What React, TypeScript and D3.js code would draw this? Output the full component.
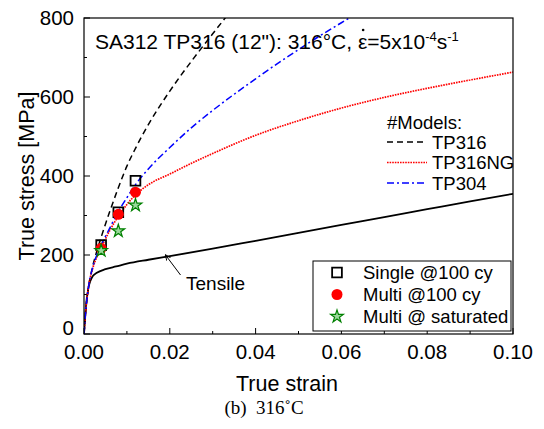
import React, { useRef, useEffect } from "react";
import * as d3 from "d3";

// tick values
const strainTicks = [0, 0.02, 0.04, 0.06, 0.08, 0.1];
const strainMinor = [0.01, 0.03, 0.05, 0.07, 0.09];
const stressTicks = [0, 200, 400, 600, 800];
const stressMinor = [100, 300, 500, 700];

// curves: [strain, stress MPa]
const tensileCurve: [number, number][] = [
  [0, 0], [0.0005, 75], [0.001, 115], [0.0015, 135], [0.002, 146], [0.003, 155],
  [0.005, 164], [0.0075, 171], [0.01, 178], [0.015, 188], [0.02, 197], [0.03, 216],
  [0.04, 236], [0.05, 256], [0.06, 276], [0.07, 296], [0.08, 316], [0.09, 336], [0.1, 355],
];
const tp316Curve: [number, number][] = [
  [0, 0], [0.0005, 70], [0.001, 115], [0.002, 170], [0.003, 210], [0.004, 245],
  [0.006, 310], [0.008, 370], [0.01, 425], [0.012, 470], [0.015, 530], [0.02, 615],
  [0.025, 690], [0.03, 760], [0.034, 815],
];
const tp316ngCurve: [number, number][] = [
  [0, 0], [0.0005, 70], [0.001, 115], [0.002, 165], [0.003, 195], [0.004, 218],
  [0.006, 262], [0.008, 298], [0.01, 328], [0.012, 352], [0.015, 378], [0.02, 405],
  [0.025, 432], [0.03, 457], [0.04, 503], [0.05, 540], [0.06, 572], [0.07, 599],
  [0.08, 622], [0.09, 643], [0.1, 663],
];
const tp304Curve: [number, number][] = [
  [0, 0], [0.0005, 70], [0.001, 115], [0.002, 168], [0.003, 200], [0.004, 225],
  [0.006, 268], [0.008, 310], [0.01, 345], [0.012, 378], [0.015, 418], [0.02, 472],
  [0.025, 522], [0.03, 566], [0.035, 607], [0.04, 646], [0.045, 684], [0.05, 720],
  [0.055, 755], [0.06, 788], [0.065, 820],
];

// test points
const testStrain = [0.004, 0.008, 0.012];
const singleStress = [225, 308, 388];
const multiStress = [217, 303, 359];
const saturatedStress = [211, 261, 326];

const modelNames = ["TP316", "TP316NG", "TP304"];
const pointNames = ["Single @100 cy", "Multi @100 cy", "Multi @ saturated"];

const FONT = "Arial, 'Liberation Sans', sans-serif";
const RED_DASH = "1.6,1";

export default function App() {
  const ref = useRef<SVGSVGElement>(null);

  useEffect(() => {
    const width = 544;
    const height = 429;
    const m = { left: 84, right: 513, top: 18, bottom: 334 };

    const svg = d3.select(ref.current);
    svg.selectAll("*").remove();
    svg.attr("width", width).attr("height", height);

    svg.append("rect").attr("width", width).attr("height", height).attr("fill", "#fff");

    const x = d3.scaleLinear().domain([0, 0.1]).range([m.left, m.right]);
    const y = d3.scaleLinear().domain([0, 800]).range([m.bottom, m.top]);

    const defs = svg.append("defs");
    defs
      .append("clipPath")
      .attr("id", "plotClip")
      .append("rect")
      .attr("x", m.left)
      .attr("y", m.top)
      .attr("width", m.right - m.left)
      .attr("height", m.bottom - m.top);

    // ticks (inside)
    const tk = svg.append("g").attr("stroke", "#000").attr("stroke-width", 1);
    strainTicks.forEach((t) =>
      tk.append("line").attr("x1", x(t)).attr("x2", x(t)).attr("y1", m.bottom).attr("y2", m.bottom - 6)
    );
    strainMinor.forEach((t) =>
      tk.append("line").attr("x1", x(t)).attr("x2", x(t)).attr("y1", m.bottom).attr("y2", m.bottom - 3)
    );
    stressTicks.forEach((t) =>
      tk.append("line").attr("x1", m.left).attr("x2", m.left + 6).attr("y1", y(t)).attr("y2", y(t))
    );
    stressMinor.forEach((t) =>
      tk.append("line").attr("x1", m.left).attr("x2", m.left + 3).attr("y1", y(t)).attr("y2", y(t))
    );

    // tick labels
    svg
      .append("g")
      .selectAll("text")
      .data(strainTicks)
      .join("text")
      .attr("x", (d) => x(d))
      .attr("y", m.bottom + 25)
      .attr("text-anchor", "middle")
      .attr("font-family", FONT)
      .attr("font-size", 20.5)
      .text((d) => d3.format(".2f")(d));

    svg
      .append("g")
      .selectAll("text")
      .data(stressTicks)
      .join("text")
      .attr("x", m.left - 10)
      .attr("y", (d) => y(d) + (d === 0 ? 1 : 7))
      .attr("text-anchor", "end")
      .attr("font-family", FONT)
      .attr("font-size", 20.5)
      .text((d) => d);

    // axis titles
    svg
      .append("text")
      .attr("x", 287)
      .attr("y", 391)
      .attr("text-anchor", "middle")
      .attr("font-family", FONT)
      .attr("font-size", 21.5)
      .text("True strain");

    svg
      .append("text")
      .attr("transform", `translate(34,${(m.top + m.bottom) / 2}) rotate(-90)`)
      .attr("text-anchor", "middle")
      .attr("font-family", FONT)
      .attr("font-size", 21.5)
      .text("True stress [MPa]");

    // caption
    svg
      .append("text")
      .attr("x", 264)
      .attr("y", 414)
      .attr("text-anchor", "middle")
      .attr("font-family", "'Liberation Serif', 'Times New Roman', serif")
      .attr("font-size", 19)
      .attr("xml:space", "preserve")
      .text("(b)  316˚C");

    // curves
    const line = d3
      .line<[number, number]>()
      .x((d) => x(d[0]))
      .y((d) => y(d[1]))
      .curve(d3.curveMonotoneX);

    const plot = svg.append("g").attr("clip-path", "url(#plotClip)");

    plot
      .append("path")
      .attr("d", line(tensileCurve))
      .attr("fill", "none")
      .attr("stroke", "#000")
      .attr("stroke-width", 1.8);
    plot
      .append("path")
      .attr("d", line(tp316Curve))
      .attr("fill", "none")
      .attr("stroke", "#000")
      .attr("stroke-width", 1.5)
      .attr("stroke-dasharray", "6,4");
    plot
      .append("path")
      .attr("d", line(tp316ngCurve))
      .attr("fill", "none")
      .attr("stroke", "#ff0000")
      .attr("stroke-width", 1.7)
      .attr("stroke-dasharray", RED_DASH);
    plot
      .append("path")
      .attr("d", line(tp304Curve))
      .attr("fill", "none")
      .attr("stroke", "#0000ff")
      .attr("stroke-width", 1.5)
      .attr("stroke-dasharray", "7,3,2,3");

    // markers
    const square = d3.symbol().type(d3.symbolSquare).size(95);
    const star = d3.symbol().type(d3.symbolStar).size(50);

    testStrain.forEach((s, i) => {
      svg
        .append("path")
        .attr("d", square())
        .attr("transform", `translate(${x(s)},${y(singleStress[i])})`)
        .attr("fill", "none")
        .attr("stroke", "#000")
        .attr("stroke-width", 1.8);
    });
    testStrain.forEach((s, i) => {
      svg
        .append("circle")
        .attr("cx", x(s))
        .attr("cy", y(multiStress[i]))
        .attr("r", 5.5)
        .attr("fill", "#ff0000");
    });
    testStrain.forEach((s, i) => {
      svg
        .append("path")
        .attr("d", star())
        .attr("transform", `translate(${x(s)},${y(saturatedStress[i])})`)
        .attr("fill", "#9ad89a")
        .attr("stroke", "#008000")
        .attr("stroke-width", 1.2);
    });

    // frame
    svg
      .append("rect")
      .attr("x", m.left)
      .attr("y", m.top)
      .attr("width", m.right - m.left)
      .attr("height", m.bottom - m.top)
      .attr("fill", "none")
      .attr("stroke", "#000")
      .attr("stroke-width", 1.2);

    // title
    const titleStr = 'SA312 TP316 (12"): 316°C, ε=5x10';
    const title = svg
      .append("text")
      .attr("x", 95)
      .attr("y", 49)
      .attr("font-family", FONT)
      .attr("font-size", 21);
    title.append("tspan").text(titleStr);
    title.append("tspan").attr("dy", -8).attr("font-size", 13).text("-4");
    title.append("tspan").attr("dy", 8).text("s");
    title.append("tspan").attr("dy", -8).attr("font-size", 13).text("-1");

    // dot over epsilon (strain rate)
    const tnode = title.node() as SVGTextElement;
    const epsIdx = titleStr.indexOf("ε");
    try {
      const p0 = tnode.getStartPositionOfChar(epsIdx);
      const p1 = tnode.getEndPositionOfChar(epsIdx);
      svg
        .append("circle")
        .attr("cx", (p0.x + p1.x) / 2 + 0.5)
        .attr("cy", 30)
        .attr("r", 1.3)
        .attr("fill", "#000");
    } catch (e) {
      // ignore
    }

    // Tensile annotation
    defs
      .append("marker")
      .attr("id", "arrowHead")
      .attr("viewBox", "0 0 10 10")
      .attr("refX", 9)
      .attr("refY", 5)
      .attr("markerWidth", 6)
      .attr("markerHeight", 6)
      .attr("orient", "auto")
      .append("path")
      .attr("d", "M0,1 L10,5 L0,9")
      .attr("fill", "none")
      .attr("stroke", "#000")
      .attr("stroke-width", 1.5);
    svg
      .append("line")
      .attr("x1", x(0.0225))
      .attr("y1", 275)
      .attr("x2", x(0.019))
      .attr("y2", y(200))
      .attr("stroke", "#000")
      .attr("stroke-width", 1)
      .attr("marker-end", "url(#arrowHead)");
    svg
      .append("text")
      .attr("x", 186)
      .attr("y", 290)
      .attr("font-family", FONT)
      .attr("font-size", 19)
      .text("Tensile");

    // model legend (no box)
    const lg = svg.append("g").attr("font-family", FONT).attr("font-size", 18.5);
    lg.append("text").attr("x", 387).attr("y", 129).text("#Models:");
    const legStyles = [
      { stroke: "#000", dash: "6,4", w: 1.5 },
      { stroke: "#ff0000", dash: RED_DASH, w: 1.7 },
      { stroke: "#0000ff", dash: "7,3,2,3", w: 1.5 },
    ];
    modelNames.forEach((n, i) => {
      const ly = 142 + i * 20.5;
      lg.append("line")
        .attr("x1", 387)
        .attr("x2", 427)
        .attr("y1", ly)
        .attr("y2", ly)
        .attr("stroke", legStyles[i].stroke)
        .attr("stroke-width", legStyles[i].w)
        .attr("stroke-dasharray", legStyles[i].dash);
      lg.append("text").attr("x", 432).attr("y", ly + 6.5).text(n);
    });

    // marker legend (boxed)
    const bx = svg.append("g").attr("font-family", FONT).attr("font-size", 18.5);
    bx.append("rect")
      .attr("x", 313)
      .attr("y", 261)
      .attr("width", 198)
      .attr("height", 70)
      .attr("fill", "#fff")
      .attr("stroke", "#000")
      .attr("stroke-width", 1);
    pointNames.forEach((n, i) => {
      const ly = 272.5 + i * 22;
      if (i === 0) {
        bx.append("path")
          .attr("d", square())
          .attr("transform", `translate(337,${ly})`)
          .attr("fill", "none")
          .attr("stroke", "#000")
          .attr("stroke-width", 1.8);
      } else if (i === 1) {
        bx.append("circle").attr("cx", 337).attr("cy", ly).attr("r", 5.5).attr("fill", "#ff0000");
      } else {
        bx.append("path")
          .attr("d", star())
          .attr("transform", `translate(337,${ly})`)
          .attr("fill", "#9ad89a")
          .attr("stroke", "#008000")
          .attr("stroke-width", 1.2);
      }
      bx.append("text").attr("x", 363).attr("y", ly + 6.5).text(n);
    });
  }, []);

  return <svg ref={ref} style={{ position: "absolute", left: 0, top: 0 }}></svg>;
}
